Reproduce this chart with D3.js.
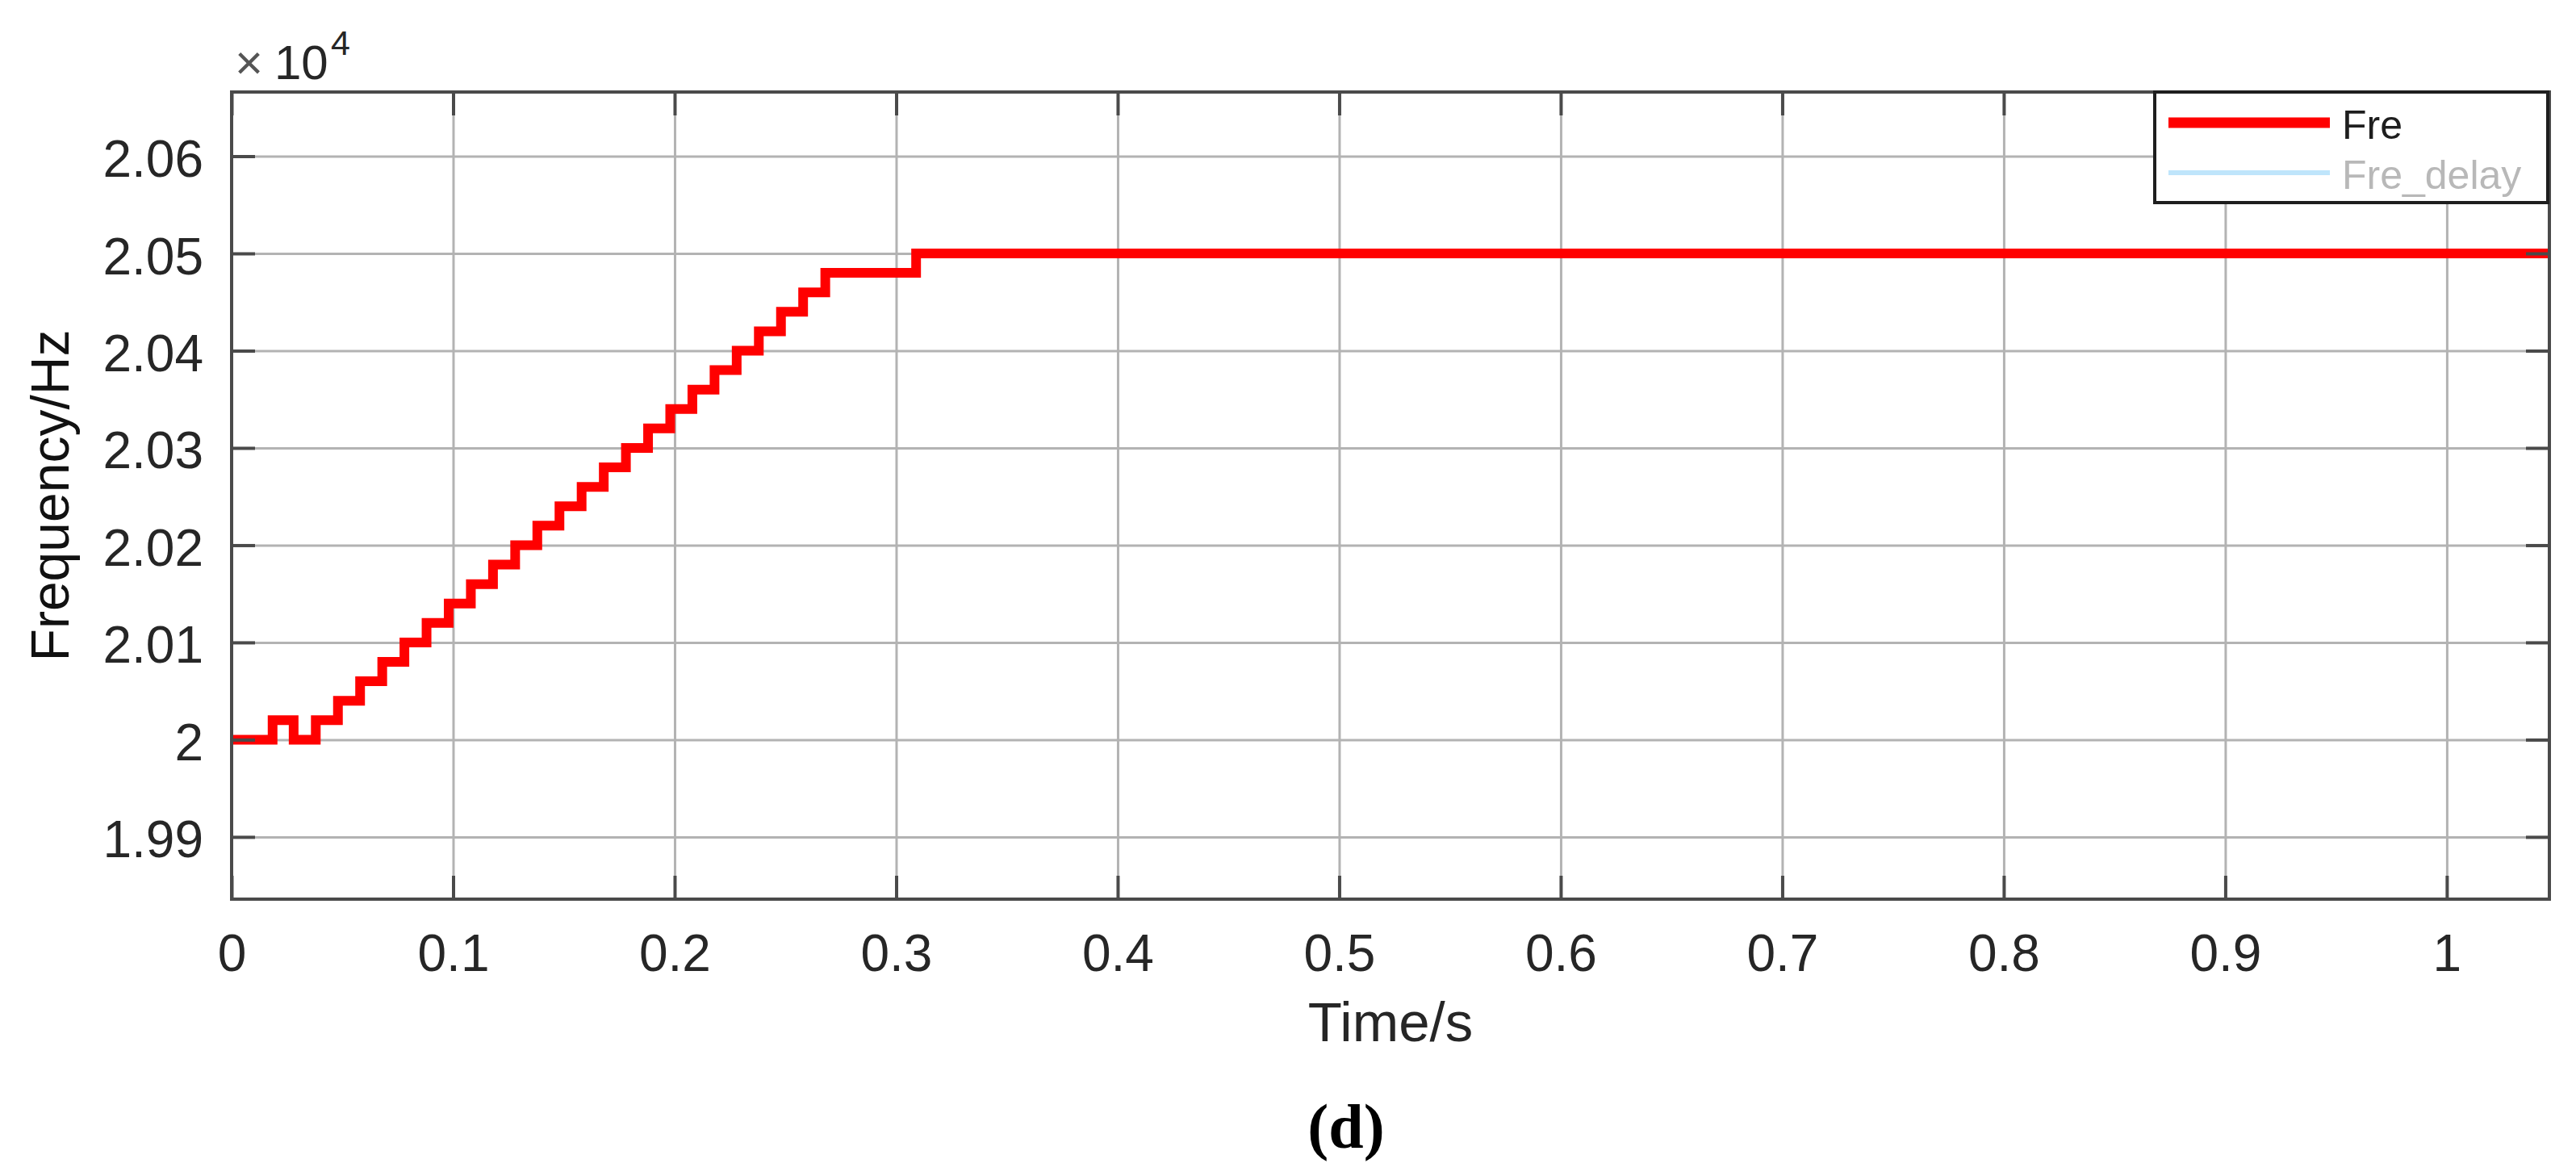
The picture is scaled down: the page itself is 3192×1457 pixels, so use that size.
<!DOCTYPE html>
<html>
<head>
<meta charset="utf-8">
<script src="https://cdn.jsdelivr.net/npm/d3@7"></script>
<style>
  body { margin: 0; background: #ffffff; }
  svg { display: block; }
</style>
</head>
<body>
<svg id="chart" width="3192" height="1457"></svg>
<script>
// ---------------- data ----------------
// Fre: stepped frequency (Hz) vs time (s); each value holds until the next time
const timeS = [0, 0.0185, 0.028, 0.038, 0.048, 0.058, 0.068, 0.078, 0.088, 0.098,
               0.108, 0.118, 0.128, 0.138, 0.148, 0.158, 0.168, 0.178, 0.188, 0.198,
               0.208, 0.218, 0.228, 0.238, 0.248, 0.258, 0.268, 0.309, 1.0463];
const freHz = [20000, 20020, 20000, 20020, 20040, 20060, 20080, 20100, 20120, 20140,
               20160, 20180, 20200, 20220, 20240, 20260, 20280, 20300, 20320, 20340,
               20360, 20380, 20400, 20420, 20440, 20460, 20480, 20500, 20500];
// Fre_delay: hidden beneath Fre in the reference (coincides with it)
const freDelayTimeS = timeS;
const freDelayHz = freHz;

const seriesNames = ["Fre", "Fre_delay"];
const xTicks = [0, 0.1, 0.2, 0.3, 0.4, 0.5, 0.6, 0.7, 0.8, 0.9, 1];
const yTicks = [19900, 20000, 20100, 20200, 20300, 20400, 20500, 20600];
const xDomain = [0, 1.0463];
const yDomain = [19836, 20666];
const xLabel = "Time/s";
const yLabel = "Frequency/Hz";
const caption = "(d)";

// ---------------- layout ----------------
const svg = d3.select("#chart");
const L = 287, R = 3159, T = 114, B = 1114;
const W = R - L, H = B - T;
const sans = "'Liberation Sans', Arial, Helvetica, sans-serif";
const axisColor = "#4a4a4a";
const gridColor = "#b3b3b3";
const textColor = "#262626";

const x = d3.scaleLinear().domain(xDomain).range([L, R]);
const y = d3.scaleLinear().domain(yDomain).range([B, T]);

// background
svg.append("rect").attr("x", 0).attr("y", 0).attr("width", 3192).attr("height", 1457).attr("fill", "#ffffff");

// ---------------- grid ----------------
const grid = svg.append("g");
grid.append("g")
  .attr("transform", `translate(0,${B})`)
  .call(d3.axisBottom(x).tickValues(xTicks).tickSize(-H).tickFormat(""))
  .call(g => g.select(".domain").remove())
  .call(g => g.selectAll("line").attr("stroke", gridColor).attr("stroke-width", 3));
grid.append("g")
  .attr("transform", `translate(${L},0)`)
  .call(d3.axisLeft(y).tickValues(yTicks).tickSize(-W).tickFormat(""))
  .call(g => g.select(".domain").remove())
  .call(g => g.selectAll("line").attr("stroke", gridColor).attr("stroke-width", 3));

// ---------------- lines ----------------
svg.append("clipPath").attr("id", "plotClip")
  .append("rect").attr("x", L).attr("y", T).attr("width", W).attr("height", H);

const line = d3.line()
  .x(d => x(d[0]))
  .y(d => y(d[1]))
  .curve(d3.curveStepAfter);

const plot = svg.append("g").attr("clip-path", "url(#plotClip)");
plot.append("path")
  .datum(freDelayTimeS.map((t, i) => [t, freDelayHz[i]]))
  .attr("d", line)
  .attr("fill", "none")
  .attr("stroke", "#bfe5fb")
  .attr("stroke-width", 5);
plot.append("path")
  .datum(timeS.map((t, i) => [t, freHz[i]]))
  .attr("d", line)
  .attr("fill", "none")
  .attr("stroke", "#ff0000")
  .attr("stroke-width", 12)
  .attr("stroke-linejoin", "miter")
  .attr("stroke-linecap", "butt");

// ---------------- axes (box with inward ticks on all sides) ----------------
const tickLen = 29;
const styleAxis = g => {
  g.select(".domain").remove();
  g.selectAll(".tick line").attr("stroke", axisColor).attr("stroke-width", 4);
};

const xAxisBottom = svg.append("g")
  .attr("transform", `translate(0,${B})`)
  .call(d3.axisBottom(x).tickValues(xTicks).tickSize(-tickLen).tickFormat(d3.format("~g")))
  .call(styleAxis);
xAxisBottom.selectAll("text")
  .attr("y", 89).attr("dy", null)
  .attr("font-family", sans).attr("font-size", 64).attr("fill", textColor);

svg.append("g")
  .attr("transform", `translate(0,${T})`)
  .call(d3.axisTop(x).tickValues(xTicks).tickSize(-tickLen).tickFormat(""))
  .call(styleAxis);

const yAxisLeft = svg.append("g")
  .attr("transform", `translate(${L},0)`)
  .call(d3.axisLeft(y).tickValues(yTicks).tickSize(-tickLen).tickFormat(d => d3.format(".2~f")(d / 1e4)))
  .call(styleAxis);
yAxisLeft.selectAll("text")
  .attr("x", -35).attr("dy", null).attr("y", 25)
  .attr("text-anchor", "end")
  .attr("font-family", sans).attr("font-size", 64).attr("fill", textColor);

svg.append("g")
  .attr("transform", `translate(${R},0)`)
  .call(d3.axisRight(y).tickValues(yTicks).tickSize(-tickLen).tickFormat(""))
  .call(styleAxis);

// frame
svg.append("rect")
  .attr("x", L).attr("y", T).attr("width", W).attr("height", H)
  .attr("fill", "none").attr("stroke", axisColor).attr("stroke-width", 4);

// exponent label
const expo = svg.append("text")
  .attr("font-family", sans).attr("fill", textColor);
expo.append("tspan").attr("x", L + 4).attr("y", 98).attr("font-size", 60).attr("fill", "#555555").text("×");
expo.append("tspan").attr("x", L + 53).attr("y", 98).attr("font-size", 60).text("10");
expo.append("tspan").attr("x", L + 123).attr("y", 68).attr("font-size", 43).text("4");

// axis labels
svg.append("text")
  .attr("x", (L + R) / 2).attr("y", 1290)
  .attr("text-anchor", "middle")
  .attr("font-family", sans).attr("font-size", 69).attr("fill", textColor)
  .text(xLabel);

svg.append("text")
  .attr("transform", `translate(85,${(T + B) / 2}) rotate(-90)`)
  .attr("text-anchor", "middle")
  .attr("font-family", sans).attr("font-size", 66).attr("fill", "#111111")
  .text(yLabel);

// caption
svg.append("text")
  .attr("x", 1668).attr("y", 1422)
  .attr("text-anchor", "middle")
  .attr("font-family", "'Liberation Serif', 'Times New Roman', serif")
  .attr("font-weight", "bold").attr("font-size", 78).attr("fill", "#000000")
  .text(caption);

// ---------------- legend ----------------
const legX = 2670, legY = T, legW = R - 2 - 2670, legH = 137;
const legend = svg.append("g");
legend.append("rect")
  .attr("x", legX).attr("y", legY).attr("width", legW).attr("height", legH)
  .attr("fill", "#ffffff").attr("stroke", "#1e1e1e").attr("stroke-width", 4);
const legItems = [
  { name: seriesNames[0], color: "#ff0000", width: 13, textColor: "#1e1e1e", dy: 38 },
  { name: seriesNames[1], color: "#bfe5fb", width: 6, textColor: "#b8b8b8", dy: 100 }
];
legItems.forEach(it => {
  legend.append("line")
    .attr("x1", legX + 17).attr("x2", legX + 217)
    .attr("y1", legY + it.dy).attr("y2", legY + it.dy)
    .attr("stroke", it.color).attr("stroke-width", it.width);
  legend.append("text")
    .attr("x", legX + 232).attr("y", legY + it.dy + 20)
    .attr("font-family", sans).attr("font-size", 50).attr("fill", it.textColor)
    .text(it.name);
});
</script>
</body>
</html>
